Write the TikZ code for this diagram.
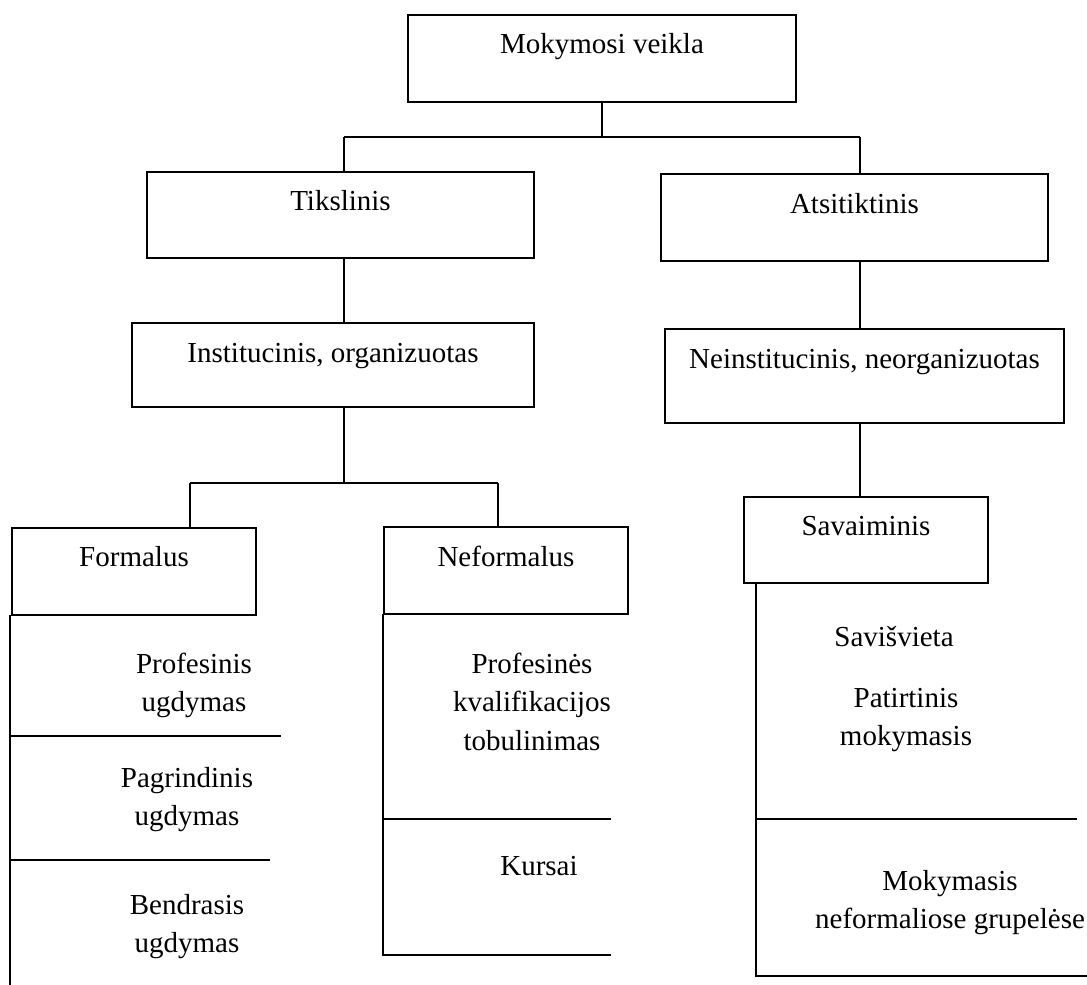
\documentclass[tikz,border=0pt]{standalone}
\usepackage{fontspec}
\setmainfont{Liberation Serif}
\newcommand{\diagfont}{\fontsize{29}{38.5}\selectfont}
\begin{document}
\begin{tikzpicture}[x=1pt,y=-1pt,line width=1.7pt,
  box/.style={draw,line width=1.8pt,inner sep=0pt,font=\diagfont},
  lbl/.style={inner sep=0pt,anchor=base,align=center,font=\diagfont}]
\useasboundingbox (0,0) rectangle (1087,985);
% boxes
\node[box,minimum width=388pt,text height=38pt,text depth=49pt] (top) at (602,58.5) {Mokymosi veikla};
\node[box,minimum width=387pt,text height=38pt,text depth=48pt] (tik) at (340.5,215) {Tikslinis};
\node[box,minimum width=387pt,text height=39pt,text depth=48pt] (ats) at (854.5,217.5) {Atsitiktinis};
\node[box,minimum width=402pt,text height=39pt,text depth=45pt] (inst) at (333,365) {Institucinis, organizuotas};
\node[box,minimum width=399pt,text height=39pt,text depth=55pt] (neinst) at (864.5,376) {Neinstitucinis, neorganizuotas};
\node[box,minimum width=244pt,text height=38pt,text depth=49pt] (form) at (134,571.5) {Formalus};
\node[box,minimum width=244pt,text height=39pt,text depth=48pt] (neform) at (506,570.5) {Neformalus};
\node[box,minimum width=244pt,text height=38pt,text depth=48pt] (sav) at (866,540) {Savaiminis};
% tree connectors
\coordinate (jL) at (344,137);
\coordinate (jR) at (860,137);
\draw (top.south) -- (top.south |- jL);
\draw (jL) -- (jR);
\draw (jL) -- (jL |- tik.north);
\draw (jR) -- (jR |- ats.north);
\draw (jL |- tik.south) -- (jL |- inst.north);
\draw (jR |- ats.south) -- (jR |- neinst.north);
\coordinate (kL) at (190,483);
\coordinate (kR) at (498,483);
\draw (jL |- inst.south) -- (jL |- kL);
\draw (kL) -- (kR);
\draw (kL) -- (kL |- form.north);
\draw (kR) -- (kR |- neform.north);
\draw (jR |- neinst.south) -- (jR |- sav.north);
% left list
\coordinate (fa) at (10,615);
\coordinate (fb) at (10,985);
\coordinate (f1) at (281,736);
\coordinate (f2) at (270,860);
\draw (fa) -- (fb);
\draw (f1 -| fa) -- (f1);
\draw (f2 -| fa) -- (f2);
% middle list
\coordinate (na) at (383,614);
\coordinate (nb) at (383,955);
\coordinate (n1) at (611,819);
\coordinate (n2) at (611,955);
\draw (na) -- (nb) -- (n2);
\draw (n1 -| na) -- (n1);
% right list
\coordinate (sa) at (756,583);
\coordinate (sb) at (756,976);
\coordinate (s1) at (1077,819);
\coordinate (s2) at (1087,976);
\draw (sa) -- (sb) -- (s2);
\draw (s1 -| sa) -- (s1);
% list texts (base anchor = baseline of the last line)
\node[lbl] (t1) at (194,711.5) {Profesinis\\ugdymas};
\node[lbl] (t2) at (187,825.5) {Pagrindinis\\ugdymas};
\node[lbl] (t3) at (187,952.5) {Bendrasis\\ugdymas};
\node[lbl] (t4) at (532,750) {Profesinės\\kvalifikacijos\\tobulinimas};
\node[lbl] (t5) at (539,875) {Kursai};
\node[lbl] (t6) at (894,646) {Savišvieta};
\node[lbl] (t7) at (906,745.5) {Patirtinis\\mokymasis};
\node[lbl] (t8) at (950,928.5) {Mokymasis\\neformaliose grupelėse};
\end{tikzpicture}
\end{document}
